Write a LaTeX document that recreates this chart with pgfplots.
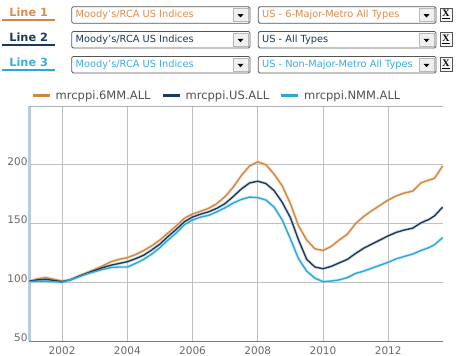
\documentclass[border=0pt]{standalone}
\usepackage{pgfplots}
\pgfplotsset{compat=1.18}
\usepackage{fontspec}
\setmainfont{DejaVu Sans}
\newfontfamily\xfont{Liberation Serif}
\definecolor{corange}{RGB}{208,136,64}
\definecolor{cnavy}{RGB}{26,58,92}
\definecolor{ccyan}{RGB}{42,168,216}
\definecolor{tor}{RGB}{218,140,78}
\definecolor{tcy}{RGB}{60,172,222}
\definecolor{gridc}{RGB}{192,192,192}
\definecolor{topc}{RGB}{175,175,175}
\definecolor{ticktext}{RGB}{105,105,105}
\definecolor{legtext}{RGB}{80,80,80}
\definecolor{yaxc}{RGB}{185,204,218}
\definecolor{xaxc}{RGB}{125,125,125}
\definecolor{boxc}{RGB}{85,85,85}

\begin{document}
\begin{tikzpicture}
\useasboundingbox (0pt,0pt) rectangle (456pt,-356pt);
% ---------- header rows ----------
\begin{scope}[x=1pt,y=1pt]
\foreach \row/\yc/\col/\tcol/\second in {1/15/corange/tor/{US - 6-Major-Metro All Types},2/39.7/cnavy/cnavy/{US - All Types},3/64.7/ccyan/tcy/{US - Non-Major-Metro All Types}}{
  \node[text=\tcol, font=\bfseries\fontsize{11.3}{13}\selectfont, inner sep=0pt] at (28.7,-\yc+2.7) {Line \row};
  \draw[\col, line width=2pt] (2,-\yc-5) -- (55,-\yc-5);
  % first box
  \draw[rounded corners=1.5pt, draw=boxc, fill=white, line width=0.8pt] (71.7,-\yc+8.3) rectangle (250,-\yc-8.3);
  \draw[draw=gray!55, fill=gray!12] (233,-\yc+6.5) rectangle (248.3,-\yc-6.5);
  \fill[black] (237.5,-\yc+0.8) -- (243.5,-\yc+0.8) -- (240.5,-\yc-2.4) -- cycle;
  \node[anchor=west, inner sep=0pt, text=\tcol, font=\fontsize{9.8}{12}\selectfont] at (75.5,-\yc) {Moody's/RCA US Indices};
  % second box
  \draw[rounded corners=1.5pt, draw=boxc, fill=white, line width=0.8pt] (258.3,-\yc+8.3) rectangle (436,-\yc-8.3);
  \draw[draw=gray!55, fill=gray!12] (419,-\yc+6.5) rectangle (434.3,-\yc-6.5);
  \fill[black] (423.5,-\yc+0.8) -- (429.5,-\yc+0.8) -- (426.5,-\yc-2.4) -- cycle;
  \node[anchor=west, inner sep=0pt, text=\tcol, font=\fontsize{9.8}{12}\selectfont] at (262,-\yc) {\second};
  % X button
  \draw[draw=boxc, fill=gray!6, line width=0.7pt] (440,-\yc+7) rectangle (452,-\yc-6.7);
  \node[inner sep=0pt, font=\xfont\bfseries\fontsize{10}{12}\selectfont] at (446,-\yc+0.5) {\underline{X}};
}
\end{scope}
% ---------- chart ----------
\begin{axis}[
  at={(29.5pt,-341pt)}, anchor=south west,
  scale only axis, width=413.5pt, height=235pt,
  clip=false,
  xmin=2001, xmax=2013.68, ymin=50, ymax=250,
  xtick={2002,2004,2006,2008,2010,2012},
  xticklabels={2002,2004,2006,2008,2010,2012},
  ytick={50,100,150,200,250},
  yticklabels={50,100,150,200,{}},
  major tick length=0pt,
  xmajorgrids, ymajorgrids,
  major grid style={draw=gridc, line width=0.8pt},
  axis x line*=bottom, axis y line*=left,
  axis line style={-},
  x axis line style={draw=xaxc, line width=0.9pt},
  y axis line style={draw=yaxc, line width=2.2pt},
  /pgf/number format/assume math mode=true,
  tick label style={font=\fontsize{10.5}{12}\selectfont, text=ticktext},
  yticklabel style={anchor=east, inner sep=0pt, xshift=-1.8pt, yshift=3.5pt},
  xticklabel style={anchor=north, inner sep=0pt, yshift=-5.4pt},
  legend columns=3,
  legend style={draw=none, fill=none, at={(rel axis cs:0,1)}, anchor=west,
    xshift=2.2pt, yshift=10.5pt, inner sep=0pt, font=\fontsize{11.5}{13}\selectfont,
    text=legtext, nodes={inner sep=0pt},
    /tikz/every odd column/.append style={column sep=5pt},
    /tikz/every even column/.append style={column sep=11.2pt}},
  legend image code/.code={\draw[#1, line width=2.2pt] (0pt,0pt) -- (16.6pt,0pt);},
  after end axis/.code={\draw[topc, line width=1pt] (rel axis cs:0,1) -- (rel axis cs:1,1);},
]
\addplot[corange!45, line width=3.2pt, opacity=0.45, forget plot] table {
x y
2001.00 100.5
2001.25 103
2001.50 104
2001.75 102.5
2002.00 101
2002.25 102
2002.50 105
2002.75 108
2003.00 111
2003.25 114
2003.50 117.5
2003.75 119.5
2004.00 121
2004.25 123.5
2004.50 127
2004.75 131
2005.00 136
2005.25 142
2005.50 148
2005.75 154.5
2006.00 158
2006.25 160.5
2006.50 163
2006.75 167
2007.00 173
2007.25 181
2007.50 191
2007.75 199
2008.00 202.5
2008.25 200
2008.50 192
2008.75 182
2009.00 167
2009.25 148
2009.50 136
2009.75 128.5
2010.00 127
2010.25 130.5
2010.50 136
2010.75 141
2011.00 150
2011.25 156
2011.50 161
2011.75 165.5
2012.00 170
2012.25 173.5
2012.50 176
2012.75 177.5
2013.00 184.5
2013.25 187
2013.42 188.5
2013.67 199
};
\addplot[cnavy!35, line width=3.2pt, opacity=0.45, forget plot] table {
x y
2001.00 101
2001.25 102
2001.50 102.5
2001.75 101.5
2002.00 100.5
2002.25 102
2002.50 105
2002.75 107.5
2003.00 110
2003.25 112.5
2003.50 114.5
2003.75 116
2004.00 117.5
2004.25 120
2004.50 123
2004.75 127.5
2005.00 132.5
2005.25 139
2005.50 145
2005.75 151.5
2006.00 155.5
2006.25 158
2006.50 160
2006.75 163
2007.00 167
2007.25 173
2007.50 179.5
2007.75 184.5
2008.00 186
2008.25 184
2008.50 178
2008.75 168
2009.00 155
2009.25 136
2009.50 119.5
2009.75 113
2010.00 111.5
2010.25 113.5
2010.50 116.5
2010.75 119.5
2011.00 124.5
2011.25 129
2011.50 132.5
2011.75 136
2012.00 139.5
2012.25 142.5
2012.50 144.5
2012.75 146
2013.00 150.5
2013.25 153.5
2013.42 156.5
2013.67 164
};
\addplot[ccyan!45, line width=3.2pt, opacity=0.45, forget plot] table {
x y
2001.00 100.5
2001.25 101
2001.50 101
2001.75 100.5
2002.00 100
2002.25 102
2002.50 104.5
2002.75 107
2003.00 109
2003.25 111
2003.50 112.5
2003.75 113
2004.00 113
2004.25 116
2004.50 119.5
2004.75 124
2005.00 129.5
2005.25 136
2005.50 142
2005.75 149
2006.00 153
2006.25 155.5
2006.50 157
2006.75 160
2007.00 163.5
2007.25 167.5
2007.50 170.5
2007.75 172.5
2008.00 172
2008.25 170
2008.50 164
2008.75 153
2009.00 137
2009.25 120
2009.50 109.5
2009.75 103.5
2010.00 100.5
2010.25 101
2010.50 102
2010.75 104
2011.00 107.5
2011.25 109.5
2011.50 112
2011.75 114.5
2012.00 117
2012.25 120
2012.50 122
2012.75 124
2013.00 127
2013.25 129.5
2013.42 132
2013.67 138
};
\addplot[corange, line width=1.4pt] table {
x y
2001.00 100.5
2001.25 103
2001.50 104
2001.75 102.5
2002.00 101
2002.25 102
2002.50 105
2002.75 108
2003.00 111
2003.25 114
2003.50 117.5
2003.75 119.5
2004.00 121
2004.25 123.5
2004.50 127
2004.75 131
2005.00 136
2005.25 142
2005.50 148
2005.75 154.5
2006.00 158
2006.25 160.5
2006.50 163
2006.75 167
2007.00 173
2007.25 181
2007.50 191
2007.75 199
2008.00 202.5
2008.25 200
2008.50 192
2008.75 182
2009.00 167
2009.25 148
2009.50 136
2009.75 128.5
2010.00 127
2010.25 130.5
2010.50 136
2010.75 141
2011.00 150
2011.25 156
2011.50 161
2011.75 165.5
2012.00 170
2012.25 173.5
2012.50 176
2012.75 177.5
2013.00 184.5
2013.25 187
2013.42 188.5
2013.67 199
};
\addlegendentry{mrcppi.6MM.ALL}
\addplot[cnavy, line width=1.4pt] table {
x y
2001.00 101
2001.25 102
2001.50 102.5
2001.75 101.5
2002.00 100.5
2002.25 102
2002.50 105
2002.75 107.5
2003.00 110
2003.25 112.5
2003.50 114.5
2003.75 116
2004.00 117.5
2004.25 120
2004.50 123
2004.75 127.5
2005.00 132.5
2005.25 139
2005.50 145
2005.75 151.5
2006.00 155.5
2006.25 158
2006.50 160
2006.75 163
2007.00 167
2007.25 173
2007.50 179.5
2007.75 184.5
2008.00 186
2008.25 184
2008.50 178
2008.75 168
2009.00 155
2009.25 136
2009.50 119.5
2009.75 113
2010.00 111.5
2010.25 113.5
2010.50 116.5
2010.75 119.5
2011.00 124.5
2011.25 129
2011.50 132.5
2011.75 136
2012.00 139.5
2012.25 142.5
2012.50 144.5
2012.75 146
2013.00 150.5
2013.25 153.5
2013.42 156.5
2013.67 164
};
\addlegendentry{mrcppi.US.ALL}
\addplot[ccyan, line width=1.4pt] table {
x y
2001.00 100.5
2001.25 101
2001.50 101
2001.75 100.5
2002.00 100
2002.25 102
2002.50 104.5
2002.75 107
2003.00 109
2003.25 111
2003.50 112.5
2003.75 113
2004.00 113
2004.25 116
2004.50 119.5
2004.75 124
2005.00 129.5
2005.25 136
2005.50 142
2005.75 149
2006.00 153
2006.25 155.5
2006.50 157
2006.75 160
2007.00 163.5
2007.25 167.5
2007.50 170.5
2007.75 172.5
2008.00 172
2008.25 170
2008.50 164
2008.75 153
2009.00 137
2009.25 120
2009.50 109.5
2009.75 103.5
2010.00 100.5
2010.25 101
2010.50 102
2010.75 104
2011.00 107.5
2011.25 109.5
2011.50 112
2011.75 114.5
2012.00 117
2012.25 120
2012.50 122
2012.75 124
2013.00 127
2013.25 129.5
2013.42 132
2013.67 138
};
\addlegendentry{mrcppi.NMM.ALL}
\end{axis}
\end{tikzpicture}
\end{document}
